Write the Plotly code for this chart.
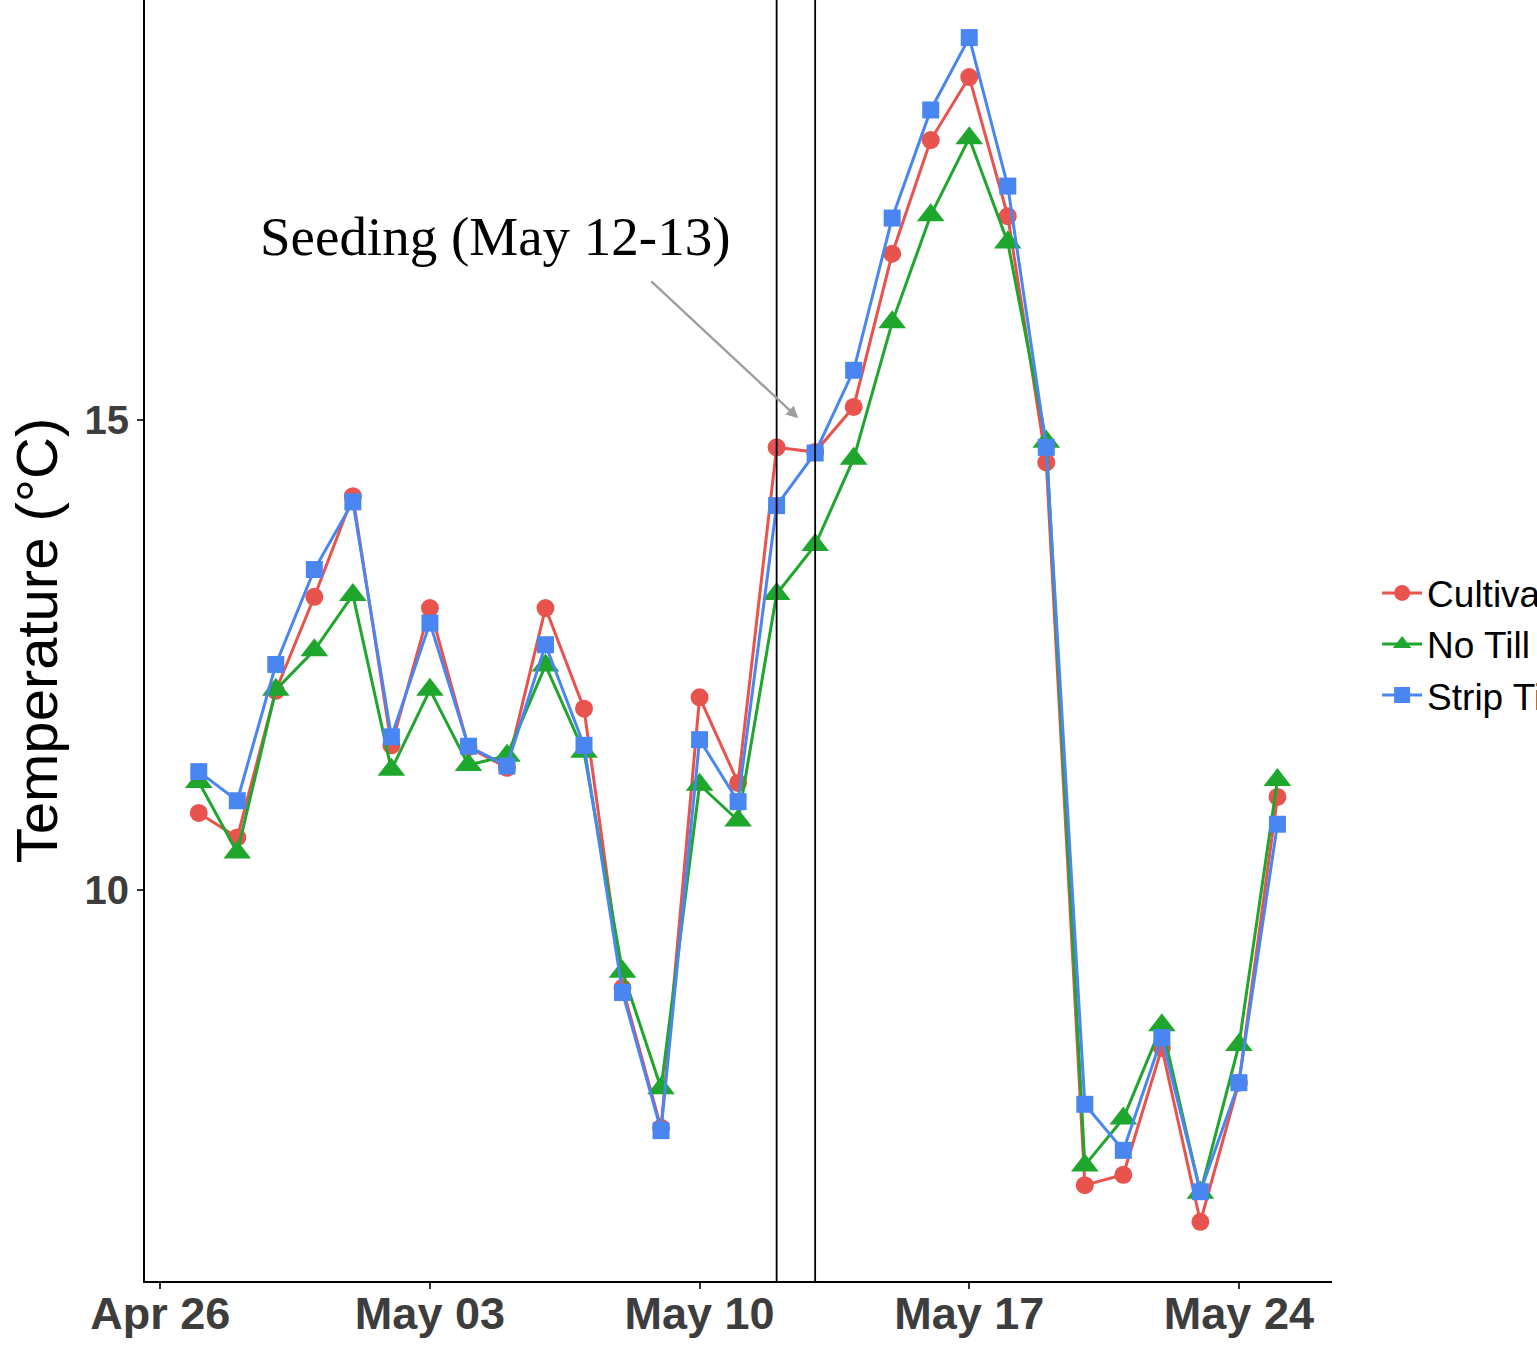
import plotly.graph_objects as go
import pandas as pd

dates = [d.strftime("%Y-%m-%d") for d in pd.date_range("2019-04-27", "2019-05-25", freq="D")]

cultivated = [10.82, 10.56, 12.12, 13.12, 14.19, 11.54, 13.00, 11.52, 11.30, 13.00,
              11.93, 8.96, 7.47, 12.05, 11.14, 14.71, 14.66, 15.14, 16.77, 17.98,
              18.65, 17.17, 14.55, 6.86, 6.97, 8.32, 6.47, 7.95, 10.99]
no_till = [11.15, 10.40, 12.13, 12.55, 13.14, 11.28, 12.13, 11.33, 11.43, 12.39,
           11.47, 9.13, 7.89, 11.12, 10.74, 13.15, 13.67, 14.59, 16.04, 17.18,
           18.00, 16.89, 14.77, 7.07, 7.57, 8.56, 6.78, 8.35, 11.17]
strip_till = [11.26, 10.95, 12.40, 13.41, 14.13, 11.63, 12.84, 11.53, 11.32, 12.61,
              11.54, 8.91, 7.44, 11.60, 10.94, 14.09, 14.65, 15.53, 17.15, 18.30,
              19.07, 17.49, 14.71, 7.72, 7.23, 8.43, 6.79, 7.95, 10.70]

series_names = ["Cultivated", "No Till", "Strip Till"]
series_values = [cultivated, no_till, strip_till]
colors = ["#E8534E", "#1FA62D", "#4A86F2"]
symbols = ["circle", "triangle-up", "square"]
marker_sizes = [18, 24, 17]

seeding_dates = ["2019-05-12", "2019-05-13"]
annotation_text = "Seeding (May 12-13)"
arrow_tip = ("2019-05-12 13:30", 15.02)
arrow_tail = ("2019-05-08 17:00", 16.49)
text_pos = ("2019-05-04 16:30", 16.95)

tick_vals = ["2019-04-26", "2019-05-03", "2019-05-10", "2019-05-17", "2019-05-24"]
y_ticks = [10, 15]

fig = go.Figure()
for name, vals, c, s, ms in zip(series_names, series_values, colors, symbols, marker_sizes):
    fig.add_trace(go.Scatter(
        x=dates, y=vals, name=name, mode="lines+markers",
        line=dict(color=c, width=3),
        marker=dict(symbol=s, size=ms, color=c),
    ))

for d in seeding_dates:
    fig.add_shape(type="line", xref="x", yref="paper", x0=d, x1=d, y0=0, y1=1,
                  line=dict(color="black", width=1.8))

fig.add_annotation(x=arrow_tip[0], y=arrow_tip[1], ax=arrow_tail[0], ay=arrow_tail[1],
                   axref="x", ayref="y", xref="x", yref="y", text="",
                   showarrow=True, arrowhead=2, arrowsize=1, arrowwidth=2.4,
                   arrowcolor="#9E9E9E")
fig.add_annotation(x=text_pos[0], y=text_pos[1], xref="x", yref="y",
                   text=annotation_text, showarrow=False,
                   font=dict(family="Liberation Serif", size=55, color="black"))

fig.update_layout(
    width=1537, height=1347,
    margin=dict(l=145, r=205, t=0, b=66, autoexpand=False),
    plot_bgcolor="white", paper_bgcolor="white",
    showlegend=True,
    legend=dict(x=1.038, xanchor="left", y=0.497, yanchor="middle",
                font=dict(family="Liberation Sans", size=37, color="black"),
                itemwidth=40, bgcolor="rgba(0,0,0,0)"),
    xaxis=dict(
        type="date", range=["2019-04-25 14:30", "2019-05-26 10:00"],
        tickvals=tick_vals, tickformat="%b %d",
        tickfont=dict(family="Liberation Sans", size=45, color="#3D3D3D", weight="bold"),
        ticklabelstandoff=-14,
        showgrid=False, zeroline=False,
        showline=True, linecolor="black", linewidth=2,
        ticks="outside", ticklen=6, tickwidth=1.5, tickcolor="#333333",
    ),
    yaxis=dict(
        range=[5.84, 19.47], tickvals=y_ticks,
        tickfont=dict(family="Liberation Sans", size=40, color="#3D3D3D", weight="bold"),
        showgrid=False, zeroline=False,
        showline=True, linecolor="black", linewidth=2,
        ticks="outside", ticklen=6, tickwidth=1.5, tickcolor="#333333",
        title=dict(text="Temperature (°C)", standoff=8,
                   font=dict(family="Liberation Sans", size=58, color="black")),
    ),
)

fig.write_html("out.html")
